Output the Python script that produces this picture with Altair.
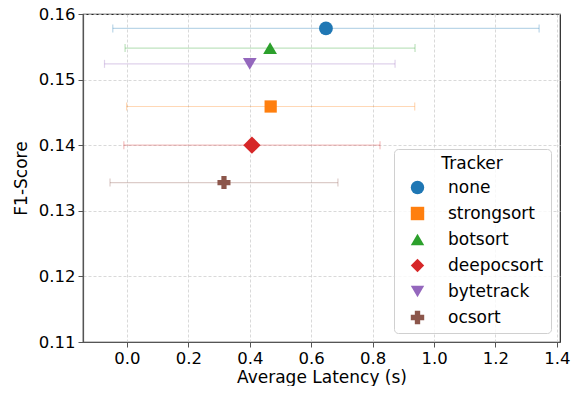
import altair as alt
import pandas as pd

trackers = ["none", "strongsort", "botsort", "deepocsort", "bytetrack", "ocsort"]
latency = [0.648, 0.468, 0.466, 0.407, 0.400, 0.316]
latency_err = [0.694, 0.469, 0.472, 0.417, 0.473, 0.371]
f1 = [0.1578, 0.1459, 0.1548, 0.1400, 0.1524, 0.1343]
colors = ["#1f77b4", "#ff7f0e", "#2ca02c", "#d62728", "#9467bd", "#8c564b"]
shapes = ["circle", "square", "triangle-up", "diamond", "triangle-down", "cross"]
marker_sizes = [190, 150, 190, 300, 190, 170]
x_ticks = [0.0, 0.2, 0.4, 0.6, 0.8, 1.0, 1.2, 1.4]
y_ticks = [0.11, 0.12, 0.13, 0.14, 0.15, 0.16]

df = pd.DataFrame({
    "Tracker": trackers,
    "lat": latency,
    "f1": f1,
    "lo": [l - e for l, e in zip(latency, latency_err)],
    "hi": [l + e for l, e in zip(latency, latency_err)],
    "col": colors,
    "sz": marker_sizes,
})

FONT = "DejaVu Sans"
xscale = alt.Scale(domain=[-0.143, 1.41], nice=False, zero=False)
yscale = alt.Scale(domain=[0.11, 0.16], nice=False, zero=False)
cscale = alt.Scale(domain=trackers, range=colors)

xaxis = alt.Axis(values=x_ticks, format=".1f")
yaxis = alt.Axis(values=y_ticks, format=".2f")

base = alt.Chart(df)

ecolor = alt.Color("col:N", scale=None)

rules = base.mark_rule(opacity=0.3, strokeWidth=1.2).encode(
    x=alt.X("lo:Q", scale=xscale, title="Average Latency (s)", axis=xaxis),
    x2="hi:Q",
    y=alt.Y("f1:Q", scale=yscale, title="F1-Score", axis=yaxis),
    color=ecolor,
)
cap_lo = base.mark_tick(orient="vertical", opacity=0.3, thickness=1.2, size=8).encode(
    x=alt.X("lo:Q", scale=xscale), y=alt.Y("f1:Q", scale=yscale), color=ecolor,
)
cap_hi = base.mark_tick(orient="vertical", opacity=0.3, thickness=1.2, size=8).encode(
    x=alt.X("hi:Q", scale=xscale), y=alt.Y("f1:Q", scale=yscale), color=ecolor,
)

points = base.mark_point(filled=True, opacity=1).encode(
    x=alt.X("lat:Q", scale=xscale, title="Average Latency (s)", axis=xaxis),
    y=alt.Y("f1:Q", scale=yscale, title="F1-Score", axis=yaxis),
    color=alt.Color("Tracker:N", scale=cscale, sort=trackers, title="Tracker"),
    shape=alt.Shape("Tracker:N", scale=alt.Scale(domain=trackers, range=shapes),
                    sort=trackers, title="Tracker"),
    size=alt.Size("sz:Q", scale=None),
)

chart = alt.layer(rules, cap_lo, cap_hi, points).properties(
    width=477, height=328,
    autosize=alt.AutoSizeParams(type="none"),
    padding={"left": 75, "top": 6, "right": 12, "bottom": 44},
).configure_view(
    stroke="#222", strokeWidth=1.2
).configure_axis(
    labelFont=FONT, titleFont=FONT, labelFontSize=16.5, titleFontSize=17,
    labelColor="#000", titleColor="#000", titleFontWeight="normal",
    domainColor="#555", domainWidth=1.2, tickColor="#555", tickSize=5,
    gridColor="#cfcfcf", gridDash=[3, 2], gridWidth=0.8, labelPadding=3,
).configure_axisY(titlePadding=8).configure_axisX(titlePadding=3).configure_legend(
    orient="bottom-right", offset=9, padding=7,
    titleFont=FONT, labelFont=FONT, titleFontSize=17, labelFontSize=17,
    titleFontWeight="normal", titleColor="#000", labelColor="#000",
    titleAnchor="middle", titlePadding=6,
    strokeColor="#d0d0d0", fillColor="rgba(255,255,255,0.8)",
    cornerRadius=4, rowPadding=8, labelOffset=22, symbolOffset=8,
    symbolStrokeWidth=0, symbolSize=180, symbolOpacity=1,
)

chart.save("out.html", embed_options={"renderer": "svg", "actions": False})
